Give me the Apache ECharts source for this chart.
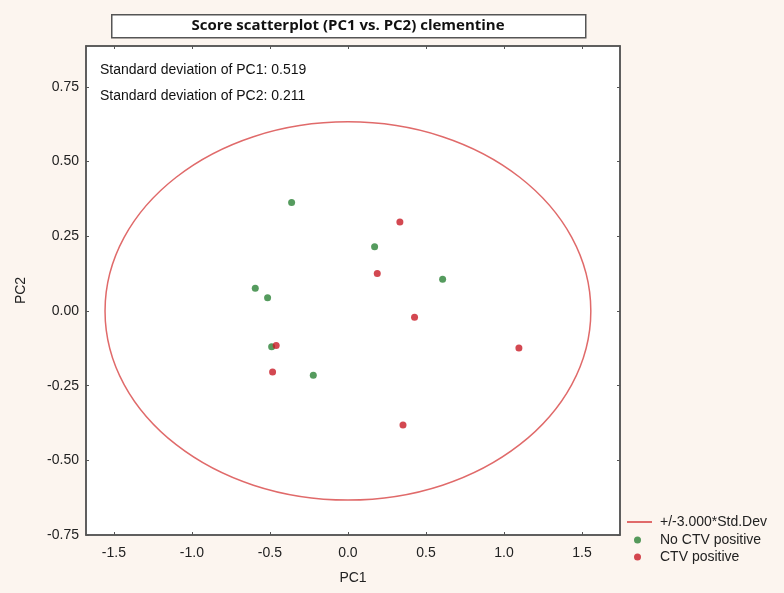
<!DOCTYPE html>
<html>
<head>
<meta charset="utf-8">
<script src="https://cdn.jsdelivr.net/npm/echarts@6/dist/echarts.min.js"></script>
<style>
  html, body { margin: 0; padding: 0; background: #fcf5ef; }
  #chart { width: 784px; height: 593px; }
</style>
</head>
<body>
<div id="chart"></div>
<script>
// scores
var noCtvPC1 = [-0.361, 0.171, 0.607, -0.594, -0.515, -0.489, -0.222];
var noCtvPC2 = [0.363, 0.215, 0.106, 0.076, 0.044, -0.120, -0.215];
var ctvPC1 = [0.333, 0.188, 0.427, -0.460, -0.483, 1.096, 0.353];
var ctvPC2 = [0.298, 0.125, -0.021, -0.116, -0.204, -0.124, -0.382];

// std devs of the components, ellipse is +/- 3 of them
var stdDev = [0.519, 0.211];
var stdMult = 3;

var xTicks = [-1.5, -1.0, -0.5, 0.0, 0.5, 1.0, 1.5];
var yTicks = [-0.75, -0.50, -0.25, 0.00, 0.25, 0.50, 0.75];

var lineName = '+/-3.000*Std.Dev';
var noName = 'No CTV positive';
var ctvName = 'CTV positive';

function pairs(xs, ys) {
    return xs.map(function (x, i) { return [x, ys[i]]; });
}

var chart = echarts.init(document.getElementById('chart'));
var axisCol = '#555';
var txt = '#222';

chart.setOption({
    animation: false,
    backgroundColor: '#fcf5ef',
    textStyle: { fontFamily: 'Liberation Sans, Arial, sans-serif' },
    grid: {
        left: 86, top: 46, right: 164, bottom: 58,
        show: true, backgroundColor: '#ffffff', borderColor: axisCol, borderWidth: 1.5
    },
    legend: [{
        data: [lineName],
        orient: 'vertical', left: 627, top: 515, padding: 0,
        icon: 'rect', itemWidth: 25, itemHeight: 2,
        textStyle: { fontSize: 14, color: txt, padding: [0, 0, 0, 3] }
    }, {
        data: [noName, ctvName],
        orient: 'vertical', left: 634, top: 533, padding: 0, itemGap: 3,
        icon: 'circle', itemWidth: 25, itemHeight: 7,
        textStyle: { fontSize: 14, color: txt, padding: [0, 0, 0, 5] }
    }],
    xAxis: [{
        type: 'value', min: -1.679, max: 1.744,
        name: 'PC1', nameLocation: 'middle', nameGap: 36,
        nameTextStyle: { fontSize: 14, color: txt },
        axisLine: { show: true, onZero: false, lineStyle: { color: axisCol, width: 1.5 } },
        axisTick: { show: true, inside: true, length: 3, customValues: xTicks, lineStyle: { color: axisCol } },
        axisLabel: {
            fontSize: 14, color: txt, margin: 11,
            customValues: xTicks,
            formatter: function (v) { return v.toFixed(1); }
        },
        splitLine: { show: false }
    }, {
        type: 'value', position: 'top', min: -1.679, max: 1.744,
        axisLine: { show: true, onZero: false, lineStyle: { color: axisCol, width: 1.5 } },
        axisTick: { show: true, inside: true, length: 3, customValues: xTicks, lineStyle: { color: axisCol } },
        axisLabel: { show: false },
        splitLine: { show: false }
    }],
    yAxis: [{
        type: 'value', min: -0.75, max: 0.887,
        name: 'PC2', nameLocation: 'middle', nameGap: 58,
        nameTextStyle: { fontSize: 14, color: txt },
        axisLine: { show: true, onZero: false, lineStyle: { color: axisCol, width: 1.5 } },
        axisTick: { show: true, inside: true, length: 3, customValues: yTicks, lineStyle: { color: axisCol } },
        axisLabel: {
            fontSize: 14, color: txt, margin: 7,
            customValues: yTicks,
            formatter: function (v) { return v.toFixed(2); }
        },
        splitLine: { show: false }
    }, {
        type: 'value', position: 'right', min: -0.75, max: 0.887,
        axisLine: { show: true, onZero: false, lineStyle: { color: axisCol, width: 1.5 } },
        axisTick: { show: true, inside: true, length: 3, customValues: yTicks, lineStyle: { color: axisCol } },
        axisLabel: { show: false },
        splitLine: { show: false }
    }],
    graphic: [{
        type: 'rect', left: 111, top: 14,
        shape: { width: 474, height: 23 },
        style: { fill: '#ffffff', stroke: '#555', lineWidth: 1.5 }
    }, {
        type: 'text', x: 348, y: 26,
        style: {
            text: 'Score scatterplot (PC1 vs. PC2) clementine',
            font: 'bold 15px "Open Sans", "Liberation Sans", sans-serif',
            fill: '#111', align: 'center', verticalAlign: 'middle'
        }
    }, {
        type: 'text', x: 100, y: 70,
        style: {
            text: 'Standard deviation of PC1: ' + stdDev[0].toFixed(3),
            font: '14px "Liberation Sans", Arial, sans-serif',
            fill: '#111', verticalAlign: 'middle'
        }
    }, {
        type: 'text', x: 100, y: 96,
        style: {
            text: 'Standard deviation of PC2: ' + stdDev[1].toFixed(3),
            font: '14px "Liberation Sans", Arial, sans-serif',
            fill: '#111', verticalAlign: 'middle'
        }
    }],
    series: [{
        name: lineName,
        type: 'custom',
        color: '#e06a6a',
        data: [[0, 0, stdDev[0] * stdMult, stdDev[1] * stdMult]],
        renderItem: function (params, api) {
            var c = api.coord([api.value(0), api.value(1)]);
            var s = api.size([api.value(2), api.value(3)]);
            return {
                type: 'ellipse',
                shape: { cx: c[0], cy: c[1], rx: s[0], ry: s[1] },
                style: { fill: 'none', stroke: '#e06a6a', lineWidth: 1.5 }
            };
        },
        clip: false,
        z: 2
    }, {
        name: noName,
        type: 'scatter',
        data: pairs(noCtvPC1, noCtvPC2),
        symbolSize: 7,
        itemStyle: { color: '#2a8236' },
        z: 3
    }, {
        name: ctvName,
        type: 'scatter',
        data: pairs(ctvPC1, ctvPC2),
        symbolSize: 7,
        itemStyle: { color: '#c81a26' },
        z: 3
    }]
});
</script>
</body>
</html>
